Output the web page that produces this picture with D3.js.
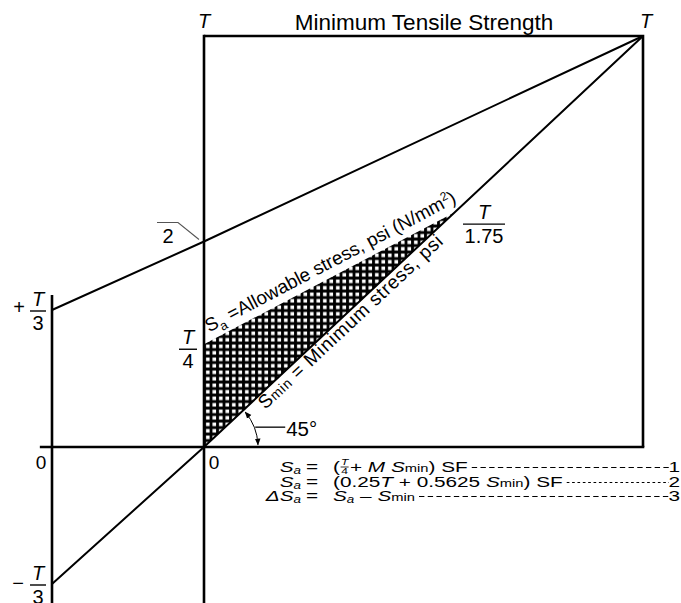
<!DOCTYPE html>
<html>
<head>
<meta charset="utf-8">
<script src="https://cdn.jsdelivr.net/npm/d3@7"></script>
<style>
  html, body { margin: 0; padding: 0; background: #fff; }
  svg { display: block; }
  text { font-family: "Liberation Sans", Arial, sans-serif; fill: #000; }
</style>
</head>
<body>
<svg id="chart" width="681" height="603"></svg>
<script>
// Stress values expressed as fractions of the minimum tensile strength T
const T = 1;
const upperLimit = [[-T / 3, T / 3], [0, T / 2], [T, T]];        // limit line through +T/3 and T
const minStressLine = [[-T / 3, -T / 3], [0, 0], [T, T]];        // 45° line, Smax = Smin
const allowableLine = [[0, T / 4], [T / 1.75, T / 1.75]];        // Sa = 0.25T + 0.5625 Smin
const safeRegion = [[0, 0], [0, T / 4], [T / 1.75, T / 1.75]];   // hatched working range
const equationNumbers = ["1", "2", "3"];

const width = 681, height = 603;
const svg = d3.select("#chart");

const x = d3.scaleLinear().domain([-T / 3, 0, T]).range([52, 204, 643]);
const y = d3.scaleLinear().domain([-T / 3, 0, T]).range([584, 447, 36]);
const line = d3.line().x(d => x(d[0])).y(d => y(d[1]));

// cross-hatch fill: black ground with small white squares
const defs = svg.append("defs");
const pat = defs.append("pattern").attr("id", "hatch")
  .attr("patternUnits", "userSpaceOnUse").attr("width", 6.5).attr("height", 6.5)
  .attr("x", x(0)).attr("y", y(0));
pat.append("rect").attr("width", 6.5).attr("height", 6.5).attr("fill", "#000");
pat.append("rect").attr("x", 2).attr("y", 1.5).attr("width", 3.6).attr("height", 3.6).attr("fill", "#fff");

defs.append("marker").attr("id", "arrow").attr("viewBox", "0 0 10 10")
  .attr("refX", 9).attr("refY", 5).attr("markerWidth", 7).attr("markerHeight", 7)
  .attr("orient", "auto-start-reverse").attr("markerUnits", "userSpaceOnUse")
  .append("path").attr("d", "M0,1 L10,5 L0,9 Z").attr("fill", "#000");

// hatched region
svg.append("path").attr("d", line(safeRegion) + "Z").attr("fill", "url(#hatch)");

const g = svg.append("g").attr("fill", "none").attr("stroke", "#000");

// tensile strength box and axes
g.append("path").attr("stroke-width", 2.6)
  .attr("d", line([[0, T], [T, T], [T, 0]]));
g.append("line").attr("stroke-width", 2.6)
  .attr("x1", x(0)).attr("x2", x(0)).attr("y1", y(T) - 1.3).attr("y2", y(-0.4));
g.append("line").attr("stroke-width", 2.6)
  .attr("x1", x(-T / 3)).attr("x2", x(-T / 3)).attr("y1", y(0.37)).attr("y2", y(-0.4));
g.append("line").attr("stroke-width", 2.6)
  .attr("x1", x(-0.36)).attr("x2", x(T) + 1.3).attr("y1", y(0)).attr("y2", y(0));

// limit lines
g.append("path").attr("stroke-width", 2).attr("d", line(upperLimit));
g.append("path").attr("stroke-width", 2).attr("d", line(minStressLine));

// 45° angle arc with arrow heads
const ang = Math.atan2(y(0) - y(T), x(T) - x(0));
const r = 54;
const arc = d3.path();
arc.arc(x(0), y(0), r, -ang + 0.05, -0.04, false);
svg.append("path").attr("d", arc.toString()).attr("fill", "none").attr("stroke", "#000")
  .attr("stroke-width", 1).attr("marker-start", "url(#arrow)").attr("marker-end", "url(#arrow)");
const mid = -ang / 2;
const midX = x(0) + r * Math.cos(mid), midY = y(0) + r * Math.sin(mid);
svg.append("line").attr("stroke", "#000").attr("stroke-width", 1.3)
  .attr("x1", midX + 1).attr("y1", midY).attr("x2", midX + 31).attr("y2", midY);
svg.append("text").attr("x", midX + 32).attr("y", midY + 9)
  .attr("font-size", 20.5).text("45°");

// titles and corner labels
svg.append("text").attr("x", 424).attr("y", 30).attr("text-anchor", "middle")
  .attr("font-size", 22.5).text("Minimum Tensile Strength");
svg.append("text").attr("x", x(0)).attr("y", y(T) - 8).attr("text-anchor", "middle")
  .attr("font-size", 20).attr("font-style", "italic").text("T");
svg.append("text").attr("x", x(T) + 3).attr("y", y(T) - 8).attr("text-anchor", "middle")
  .attr("font-size", 20).attr("font-style", "italic").text("T");

// stacked fraction label helper
function fraction(cx, barY, num, den, size, barW) {
  svg.append("text").attr("x", cx).attr("y", barY - 5).attr("text-anchor", "middle")
    .attr("font-size", size).attr("font-style", "italic").text(num);
  svg.append("line").attr("x1", cx - barW / 2).attr("x2", cx + barW / 2)
    .attr("y1", barY).attr("y2", barY).attr("stroke", "#000").attr("stroke-width", 1.4);
  svg.append("text").attr("x", cx).attr("y", barY + size * 0.8 + 3).attr("text-anchor", "middle")
    .attr("font-size", size).text(den);
}
fraction(38, y(T / 3) + 1, "T", "3", 20, 16);
svg.append("text").attr("x", 19).attr("y", y(T / 3) + 4).attr("text-anchor", "middle")
  .attr("font-size", 20).text("+");
fraction(38, y(-T / 3) + 1, "T", "3", 20, 16);
svg.append("text").attr("x", 18).attr("y", y(-T / 3) + 6).attr("text-anchor", "middle")
  .attr("font-size", 20).text("−");
fraction(188, y(T / 4) + 5, "T", "4", 20, 18);
fraction(484, y(T / 1.75) + 12, "T", "1.75", 20, 42);

// T/2 marker on the vertical axis
svg.append("text").attr("x", 168).attr("y", y(T / 2) + 1).attr("text-anchor", "middle")
  .attr("font-size", 20).text("2");
svg.append("path").attr("fill", "none").attr("stroke", "#555").attr("stroke-width", 1.1)
  .attr("d", `M157,${y(T / 2) - 19} L178,${y(T / 2) - 19} L${x(0) - 5},${y(T / 2) - 2}`);

// origin labels
svg.append("text").attr("x", x(-T / 3) - 11).attr("y", y(0) + 22).attr("text-anchor", "middle")
  .attr("font-size", 19).text("0");
svg.append("text").attr("x", x(0) + 10).attr("y", y(0) + 22).attr("text-anchor", "middle")
  .attr("font-size", 19).text("0");

// labels running along the lines
function alongLabel(p0, p1, dist, offset, size) {
  const x0 = x(p0[0]), y0 = y(p0[1]), x1 = x(p1[0]), y1 = y(p1[1]);
  const a = Math.atan2(y1 - y0, x1 - x0);
  const ux = Math.cos(a), uy = Math.sin(a);
  const px = x0 + ux * dist - uy * offset, py = y0 + uy * dist + ux * offset;
  return svg.append("text").attr("font-size", size)
    .attr("transform", `translate(${px},${py}) rotate(${a * 180 / Math.PI})`);
}
const sa = alongLabel(allowableLine[0], allowableLine[1], 10, -8, 18.8);
sa.append("tspan").text("S");
sa.append("tspan").attr("font-size", 13).attr("dy", 5).text("a");
sa.append("tspan").attr("dy", -5).text(" =Allowable stress, psi (N/mm");
sa.append("tspan").attr("font-size", 12).attr("dy", -7).text("2");
sa.append("tspan").attr("dy", 7).text(")");

const sm = alongLabel(minStressLine[1], minStressLine[2], 70, 15, 19)
  .attr("letter-spacing", 0.8);
sm.append("tspan").text("S");
sm.append("tspan").attr("font-size", 14).text("min");
sm.append("tspan").text(" = Minimum stress, psi");

// design equations, set in a wide face
const rows = [472, 487, 501];
const eqSize = 15.5;
const eqLeft = 283, eqScale = 1.34;
const ex = X => (X - eqLeft) / eqScale;
const eq = svg.append("g").attr("transform", `translate(${eqLeft},0) scale(${eqScale},1)`);

function lhs(row, prefix) {
  const t = eq.append("text").attr("x", ex(301)).attr("y", row).attr("text-anchor", "end")
    .attr("font-size", eqSize).attr("font-style", "italic");
  t.append("tspan").text(prefix + "S");
  t.append("tspan").attr("font-size", 10).attr("dy", 2).text("a");
  eq.append("text").attr("x", ex(312)).attr("y", row).attr("text-anchor", "middle")
    .attr("font-size", eqSize).text("=");
}
function leader(row, textNode, dash, label) {
  const b = textNode.node().getBBox();
  eq.append("line").attr("x1", b.x + b.width + 3).attr("x2", ex(669))
    .attr("y1", row - 4.5).attr("y2", row - 4.5).attr("stroke", "#000").attr("stroke-width", 1.1)
    .attr("stroke-dasharray", dash);
  eq.append("text").attr("x", ex(680)).attr("y", row).attr("text-anchor", "end")
    .attr("font-size", eqSize).text(label);
}

lhs(rows[0], "");
const open1 = eq.append("text").attr("x", ex(333)).attr("y", rows[0]).attr("font-size", eqSize).text("(");
const fx = ex(333) + open1.node().getComputedTextLength() + 3.5;
eq.append("text").attr("x", fx).attr("y", rows[0] - 6.5).attr("text-anchor", "middle")
  .attr("font-size", 9).attr("font-style", "italic").text("T");
eq.append("line").attr("x1", fx - 3).attr("x2", fx + 3).attr("y1", rows[0] - 5).attr("y2", rows[0] - 5)
  .attr("stroke", "#000").attr("stroke-width", 0.8);
eq.append("text").attr("x", fx).attr("y", rows[0] + 2.5).attr("text-anchor", "middle")
  .attr("font-size", 9).text("4");
const e1 = eq.append("text").attr("x", fx + 4).attr("y", rows[0]).attr("font-size", eqSize);
e1.append("tspan").text("+ ");
e1.append("tspan").attr("font-style", "italic").text("M S");
e1.append("tspan").attr("font-size", 11).text("min");
e1.append("tspan").text(") SF");
leader(rows[0], e1, "4,2.5", equationNumbers[0]);

lhs(rows[1], "");
const e2 = eq.append("text").attr("x", ex(333)).attr("y", rows[1]).attr("font-size", eqSize);
e2.append("tspan").text("(0.25");
e2.append("tspan").attr("font-style", "italic").text("T");
e2.append("tspan").text(" + 0.5625 ");
e2.append("tspan").attr("font-style", "italic").text("S");
e2.append("tspan").attr("font-size", 11).text("min");
e2.append("tspan").text(") SF");
leader(rows[1], e2, "2,2", equationNumbers[1]);

lhs(rows[2], "Δ");
const e3 = eq.append("text").attr("x", ex(333)).attr("y", rows[2]).attr("font-size", eqSize);
e3.append("tspan").attr("font-style", "italic").text("S");
e3.append("tspan").attr("font-size", 10).attr("dy", 2).attr("font-style", "italic").text("a");
e3.append("tspan").attr("dy", -2).text(" – ");
e3.append("tspan").attr("font-style", "italic").text("S");
e3.append("tspan").attr("font-size", 11).text("min");
leader(rows[2], e3, "4,2.5", equationNumbers[2]);
</script>
</body>
</html>
